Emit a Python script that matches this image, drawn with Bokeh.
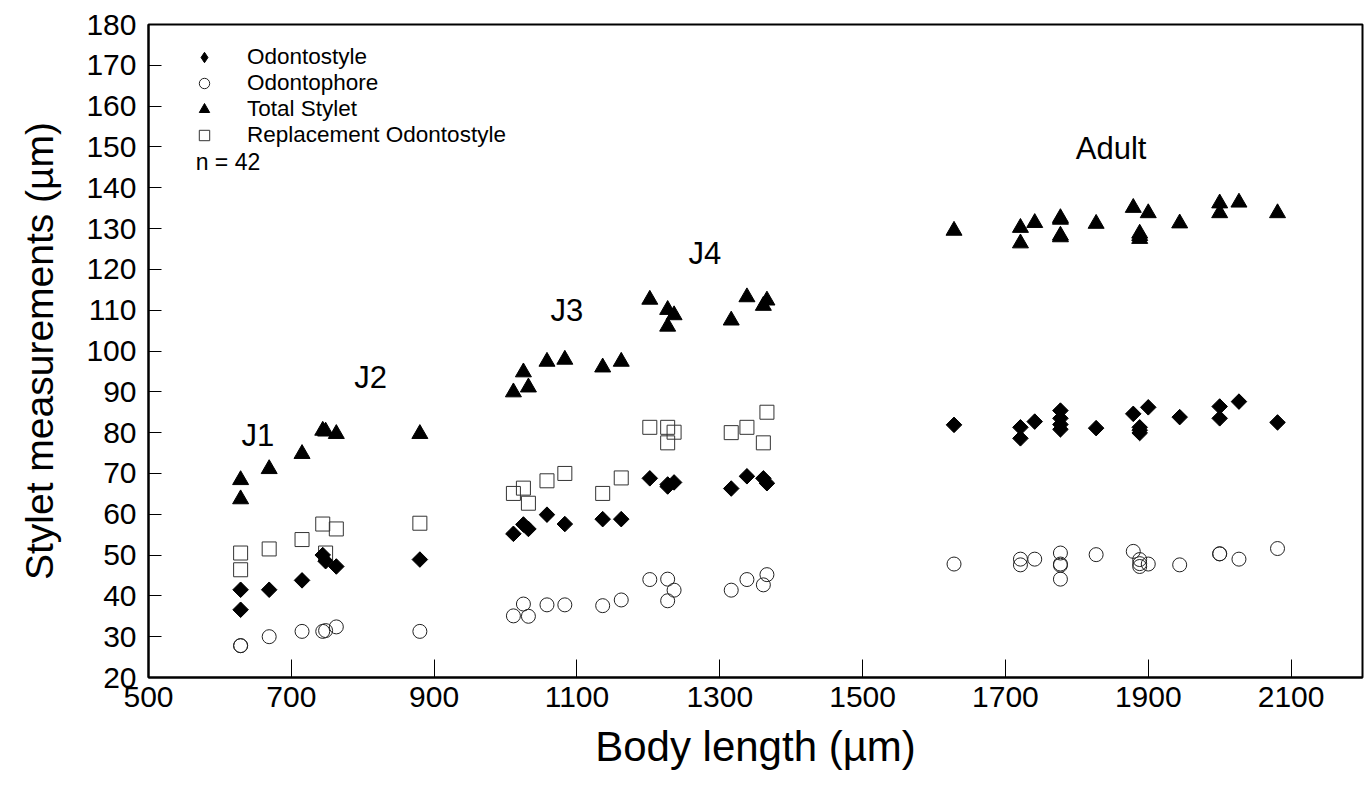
import math
from bokeh.plotting import figure
from bokeh.models import Range1d, FixedTicker, Legend, LegendItem, Label
from bokeh.embed import file_html
from bokeh.resources import INLINE

FONT = "Liberation Sans"

# Body length (µm) of the 42 specimens: J1-J2, J3-J4, adults
body_length = [629, 629, 669, 715, 744, 748, 763, 880,
               1011, 1025, 1032, 1058, 1083, 1136, 1162, 1202, 1227, 1236, 1227, 1316, 1338, 1361, 1366,
               1628, 1721, 1721, 1741, 1777, 1777, 1777, 1777, 1827, 1879, 1888, 1888, 1888, 1900, 1944,
               2000, 2000, 2027, 2081]

total_stylet = [68.4, 63.7, 71.1, 74.8, 80.5, 80.3, 79.7, 79.7,
                89.9, 94.8, 91.1, 97.4, 97.9, 96.0, 97.4, 112.6, 110.1, 108.8, 106.0, 107.5, 113.2, 111.1, 112.4,
                129.5, 130.2, 126.4, 131.4, 132.6, 127.9, 132.2, 128.3, 131.2, 135.1, 128.8, 127.5, 128.2, 133.8,
                131.3, 136.2, 133.8, 136.4, 133.8]

odontostyle = [41.5, 36.6, 41.5, 43.8, 50.0, 48.5, 47.2, 48.9,
               55.2, 57.5, 56.4, 59.9, 57.6, 58.8, 58.8, 68.8, 66.8, 67.8, 67.3, 66.3, 69.3, 68.8, 67.6,
               81.9, 81.3, 78.6, 82.7, 85.4, 83.5, 82.0, 80.8, 81.1, 84.6, 81.3, 79.9, 80.6, 86.2,
               83.8, 86.4, 83.5, 87.6, 82.5]

odontophore = [27.8, 27.8, 30.0, 31.3, 31.3, 31.5, 32.4, 31.3,
               35.1, 38.0, 35.0, 37.8, 37.8, 37.6, 39.0, 44.0, 44.1, 41.4, 38.8, 41.4, 44.0, 42.7, 45.2,
               47.8, 49.0, 47.6, 49.0, 50.5, 47.8, 44.1, 47.5, 50.1, 50.9, 48.9, 47.2, 47.9, 47.8,
               47.6, 50.3, 50.3, 49.0, 51.6]

# Replacement odontostyle: juveniles only (first 23 specimens)
replacement_length = body_length[:23]
replacement_odontostyle = [50.5, 46.4, 51.5, 53.8, 57.6, 50.5, 56.4, 57.8,
                           65.1, 66.4, 62.7, 68.2, 70.0, 65.1, 68.9, 81.3, 81.3, 80.1, 77.5, 80.0, 81.3, 77.5, 85.0]

series_names = ["Odontostyle", "Odontophore", "Total Stylet", "Replacement Odontostyle"]
x_ticks = [500, 700, 900, 1100, 1300, 1500, 1700, 1900, 2100]
y_ticks = list(range(20, 181, 10))
stage_labels = ["J1", "J2", "J3", "J4", "Adult"]

p = figure(width=1370, height=788, x_range=Range1d(500, 2200), y_range=Range1d(20, 180),
           output_backend="svg", toolbar_location=None,
           min_border_left=148, min_border_right=8, min_border_top=24, min_border_bottom=111)
p.xgrid.visible = False
p.ygrid.visible = False
p.outline_line_color = "black"
p.outline_line_width = 2
p.background_fill_color = "white"
p.border_fill_color = "white"

# hollow circles
r_op = p.scatter(body_length, odontophore, marker="circle", size=14, fill_color=None,
                 line_color="#222222", line_width=1)
# hollow squares
r_ro = p.scatter(replacement_length, replacement_odontostyle, marker="square", size=14,
                 fill_color=None, line_color="#333333", line_width=1)
# filled diamonds (legend proxy hidden inside the rotated squares)
r_os_leg = p.scatter(body_length, odontostyle, marker="diamond", size=14, fill_color="black",
                     line_color="black")
r_os = p.scatter(body_length, odontostyle, marker="square", angle=math.pi / 4, size=11,
                 fill_color="black", line_color="black")
# filled triangles
r_ts = p.scatter(body_length, total_stylet, marker="triangle", size=16, fill_color="black",
                 line_color="black")

p.xaxis.ticker = FixedTicker(ticks=x_ticks)
p.yaxis.ticker = FixedTicker(ticks=y_ticks)
p.xaxis.axis_label = "Body length (µm)"
p.yaxis.axis_label = "Stylet measurements (µm)"
for ax, tin in ((p.xaxis[0], 18), (p.yaxis[0], 13)):
    ax.major_tick_in = tin
    ax.major_tick_out = 0
    ax.minor_tick_line_color = None
    ax.axis_line_width = 2
    ax.axis_line_color = "black"
    ax.major_tick_line_color = "black"
    ax.major_tick_line_width = 1
    ax.major_label_text_font = FONT
    ax.major_label_text_font_size = "30px"
    ax.major_label_text_color = "black"
    ax.axis_label_text_font = FONT
    ax.axis_label_text_font_style = "normal"
    ax.axis_label_text_color = "black"
p.xaxis.axis_label_text_font_size = "42px"
p.yaxis.axis_label_text_font_size = "39px"
p.xaxis.major_label_standoff = 9
p.xaxis.axis_label_standoff = 13
p.yaxis.major_label_standoff = 12
p.yaxis.axis_label_standoff = 22

legend = Legend(items=[LegendItem(label=series_names[0], renderers=[r_os_leg]),
                       LegendItem(label=series_names[1], renderers=[r_op]),
                       LegendItem(label=series_names[2], renderers=[r_ts]),
                       LegendItem(label=series_names[3], renderers=[r_ro])],
                location=(43, 529), orientation="vertical", border_line_color=None,
                background_fill_alpha=0, label_text_font=FONT, label_text_font_size="22.5px",
                label_text_color="black", glyph_width=26, glyph_height=26, label_standoff=30,
                spacing=0, padding=0, margin=0, label_height=20)
p.add_layout(legend)

p.add_layout(Label(x=566, y=146.3, text="n = 42", text_font=FONT, text_font_size="23px",
                   text_baseline="middle", text_align="left", text_color="black"))

stage_pos = [(653, 79.3), (811, 93.6), (1086, 109.9), (1279, 123.9), (1848, 149.5)]
for name, (lx, ly) in zip(stage_labels, stage_pos):
    p.add_layout(Label(x=lx, y=ly, text=name, text_font=FONT, text_font_size="31px",
                       text_baseline="middle", text_align="center", text_color="black"))

open("out.html", "w").write(file_html(p, INLINE))
